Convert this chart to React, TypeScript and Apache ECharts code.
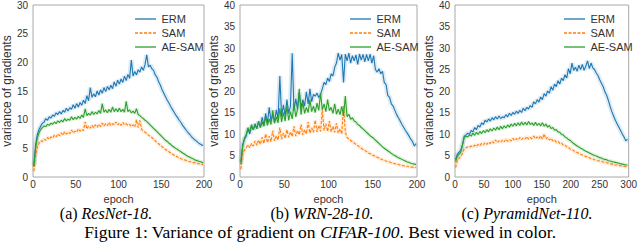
import React, { useEffect, useRef } from "react";
import * as echarts from "echarts";

// ---- data ----
const EPOCH_START_AB = 1;
const EPOCH_STEP_AB = 2;
const EPOCH_START_C = 1;
const EPOCH_STEP_C = 3;

const SERIES_NAMES = ["ERM", "SAM", "AE-SAM"];

// (a) ResNet-18
const ERM_A = [2.0,5.6,7.4,8.3,8.9,9.4,9.6,10.2,9.9,10.5,10.3,10.8,10.6,11.2,10.9,11.4,11.0,11.6,11.3,12.0,11.5,12.1,11.8,12.6,12.0,12.8,12.2,13.0,12.5,13.4,12.8,14.2,13.3,15.6,13.9,14.5,14.0,15.0,14.3,15.2,14.6,15.6,14.9,15.8,15.2,16.0,15.4,16.6,15.8,16.9,16.2,17.1,16.5,17.6,16.8,17.9,17.2,20.4,17.6,18.4,17.8,18.7,18.3,19.2,18.6,19.6,21.3,19.2,19.5,18.9,18.6,17.8,17.4,16.6,16.0,15.2,14.6,14.0,13.4,12.9,12.3,11.8,11.3,10.8,10.4,9.9,9.5,9.0,8.6,8.2,7.8,7.5,7.1,6.8,6.5,6.3,6.0,5.8,5.6,5.5];
const SAM_A = [1.0,3.8,5.2,5.9,6.3,6.2,6.6,6.4,6.9,6.6,7.0,6.8,7.3,7.0,7.5,7.2,7.7,7.3,7.9,7.5,7.8,7.6,8.2,7.7,8.0,7.8,8.4,8.0,8.3,8.1,9.6,8.4,8.9,8.5,9.0,8.6,9.1,8.7,9.2,8.8,9.4,8.9,9.3,9.0,9.5,9.0,9.3,9.1,9.6,9.1,9.4,9.0,9.5,9.1,9.3,9.0,9.2,8.8,9.1,8.7,10.0,8.6,9.9,8.3,8.0,7.8,7.6,7.3,7.1,6.9,6.6,6.3,6.0,5.8,5.5,5.3,5.0,4.8,4.6,4.4,4.2,4.0,3.8,3.7,3.5,3.4,3.2,3.1,3.0,2.9,2.8,2.7,2.6,2.5,2.5,2.4,2.3,2.3,2.2,2.2];
const AESAM_A = [1.8,5.0,6.8,7.7,8.3,8.6,8.9,8.8,9.2,9.0,9.4,9.2,9.6,9.3,9.8,9.5,9.9,9.6,10.2,9.8,10.1,9.9,10.5,10.0,10.4,10.1,10.6,10.2,10.8,10.4,11.9,10.7,11.1,10.8,11.4,10.9,11.3,11.0,11.6,11.1,12.8,11.3,11.7,11.2,11.8,11.3,12.2,11.4,11.9,11.4,12.0,11.4,11.8,11.3,13.2,11.4,11.7,11.2,11.5,11.1,11.9,10.9,10.7,10.4,10.2,9.9,9.7,9.4,9.1,8.8,8.5,8.2,7.9,7.6,7.3,7.0,6.7,6.4,6.2,5.9,5.7,5.4,5.2,5.0,4.8,4.6,4.4,4.2,4.0,3.8,3.6,3.5,3.3,3.2,3.0,2.9,2.8,2.7,2.6,2.5];

// (b) WRN-28-10
const ERM_B = [3.5,7.5,8.8,9.5,11.2,10.0,11.8,11.0,12.4,11.3,12.8,11.6,13.9,12.0,14.8,12.5,16.2,13.0,14.5,12.8,15.6,13.5,23.5,14.0,16.8,14.2,18.0,14.8,16.5,28.8,15.5,18.2,15.8,19.5,16.2,18.0,16.5,19.8,17.0,20.5,17.5,19.2,18.8,19.5,18.5,19.2,20.5,22.0,21.5,23.0,22.2,24.0,23.5,25.5,26.5,28.8,27.2,28.5,22.0,28.6,27.0,28.8,26.5,28.2,27.0,28.4,26.2,28.6,27.2,28.5,26.8,28.5,27.0,28.6,26.5,28.2,25.0,24.4,25.2,24.0,24.6,22.0,21.5,19.0,18.5,17.0,16.5,15.5,14.5,13.8,13.0,12.2,11.5,10.8,10.2,9.5,8.8,8.2,7.2,7.8];
const SAM_B = [1.8,5.5,6.2,6.8,7.5,6.8,7.8,7.2,8.4,7.4,8.6,7.6,9.2,7.8,10.0,8.0,9.5,8.2,10.8,8.4,9.6,8.6,11.5,8.8,10.2,9.0,11.0,9.2,10.5,9.4,11.8,9.5,10.8,9.8,12.2,9.8,11.0,10.0,12.8,10.2,11.4,10.4,13.2,10.5,12.0,10.6,15.5,10.8,12.4,10.6,13.0,10.5,11.8,10.4,12.5,10.2,11.2,10.0,16.5,10.4,9.2,8.8,8.5,8.2,7.9,7.6,7.3,7.0,6.7,6.4,6.2,5.9,5.6,5.4,5.2,5.0,4.8,4.6,4.4,4.2,4.0,3.9,3.7,3.6,3.5,3.3,3.2,3.1,3.0,2.9,2.8,2.7,2.6,2.5,2.5,2.4,2.3,2.3,2.2,2.2];
const AESAM_B = [3.0,7.0,9.0,9.8,11.5,10.5,12.2,11.0,12.0,11.2,13.0,11.5,12.8,11.8,14.0,12.0,13.5,12.2,15.5,12.5,14.0,12.6,16.0,12.8,15.0,13.0,16.5,13.2,15.2,13.5,17.0,14.0,15.8,20.5,14.5,17.5,14.8,16.2,15.0,18.0,15.2,16.5,15.0,17.2,15.5,19.5,15.6,17.0,15.2,18.0,15.4,16.2,14.8,17.0,14.6,15.8,14.5,16.4,14.2,18.8,14.0,14.6,13.4,13.8,13.0,12.8,12.2,12.0,11.5,11.2,10.8,10.4,10.0,9.6,9.3,9.0,8.6,8.2,7.8,7.4,7.0,6.7,6.4,6.1,5.8,5.5,5.2,5.0,4.7,4.5,4.3,4.1,3.9,3.7,3.5,3.4,3.2,3.1,3.0,2.9];

// (c) PyramidNet-110
const ERM_C = [4.0,5.3,5.8,6.2,7.5,9.5,9.8,10.2,9.9,10.8,10.5,11.5,11.0,12.0,11.6,12.6,12.2,13.2,12.8,13.5,13.0,13.8,13.3,14.0,13.5,14.2,13.6,14.0,13.8,14.5,14.0,14.8,14.3,15.0,14.6,15.3,14.8,15.5,15.0,16.0,15.4,16.2,15.8,16.6,16.2,17.5,17.0,18.0,17.4,18.6,18.0,19.4,18.8,20.0,19.5,21.0,20.2,21.6,21.0,22.4,21.6,23.0,22.4,23.8,23.0,25.2,24.0,26.5,24.8,25.5,24.6,26.0,25.0,26.2,24.8,25.8,27.0,25.2,26.5,25.4,25.0,24.2,23.6,22.6,21.8,21.0,19.8,19.0,17.8,16.4,15.2,14.2,13.2,12.4,11.6,10.8,10.0,9.3,8.4,8.8];
const SAM_C = [2.2,3.8,4.3,4.8,5.5,6.6,6.8,7.0,6.9,7.2,7.0,7.4,7.1,7.6,7.3,7.8,7.5,8.0,7.6,8.1,7.8,8.3,7.9,8.6,8.0,8.4,8.1,8.6,8.2,8.8,8.3,8.7,8.4,9.0,8.5,8.9,8.6,9.2,8.7,9.1,8.8,9.4,8.8,9.2,8.9,9.5,8.9,9.3,8.9,9.6,8.8,10.0,8.8,9.2,8.6,9.0,8.4,8.6,8.1,8.3,7.8,7.9,7.4,7.4,7.0,6.9,6.5,6.4,6.1,5.9,5.7,5.5,5.3,5.1,4.9,4.8,4.6,4.5,4.3,4.2,4.0,3.9,3.8,3.7,3.6,3.5,3.4,3.3,3.2,3.1,3.0,2.9,2.8,2.8,2.7,2.6,2.5,2.5,2.4,2.4];
const AESAM_C = [3.5,4.8,5.3,5.8,7.5,9.2,9.5,9.3,9.8,9.5,10.2,9.7,10.4,9.9,10.6,10.1,10.8,10.3,11.0,10.5,11.2,10.7,11.4,10.9,11.6,11.0,11.8,11.2,11.9,11.4,12.1,11.6,12.3,11.8,12.5,11.9,12.6,12.0,12.8,12.1,12.7,12.1,12.9,12.2,12.6,12.0,12.7,12.0,12.5,11.9,12.6,11.8,12.3,11.6,12.0,11.3,11.5,10.9,11.0,10.5,10.4,9.9,9.8,9.3,9.1,8.7,8.5,8.1,7.8,7.5,7.2,7.0,6.7,6.5,6.2,6.0,5.8,5.6,5.4,5.2,5.0,4.9,4.7,4.5,4.4,4.2,4.1,4.0,3.8,3.7,3.6,3.5,3.4,3.3,3.2,3.1,3.0,2.9,2.8,2.8];

const CAPTIONS = [
  { tag: "(a) ", model: "ResNet-18." },
  { tag: "(b) ", model: "WRN-28-10." },
  { tag: "(c) ", model: "PyramidNet-110." },
];
const FIG_PREFIX = "Figure 1: Variance of gradient on ";
const FIG_ITALIC = "CIFAR-100";
const FIG_SUFFIX = ". Best viewed in color.";

const COLORS = ["#1f77b4", "#ff7f0e", "#2ca02c"];
const SANS = "'Liberation Sans', Arial, sans-serif";
const SERIF = "'Liberation Serif', 'Times New Roman', serif";

const SOLID_ICON = "path://M0,0H21V1.3H0Z";
const DASH_ICON = "path://M0,0h3v1.3h-3z M4.5,0h3v1.3h-3z M9,0h3v1.3h-3z M13.5,0h3v1.3h-3z M18,0h3v1.3h-3z";

const toPairs = (arr: number[], start: number, step: number) =>
  arr.map((v, i) => [start + i * step, v]);

export default function App() {
  const ref = useRef<HTMLDivElement>(null);
  useEffect(() => {
    document.body.style.margin = "0";
    const chart = echarts.init(ref.current!, undefined, { renderer: "svg" });

    const panels = [
      { data: [ERM_A, SAM_A, AESAM_A], start: EPOCH_START_AB, step: EPOCH_STEP_AB, xmax: 200, ymax: 30, left: 26, width: 178, legendLeft: 130 },
      { data: [ERM_B, SAM_B, AESAM_B], start: EPOCH_START_AB, step: EPOCH_STEP_AB, xmax: 200, ymax: 40, left: 240, width: 177, legendLeft: 345 },
      { data: [ERM_C, SAM_C, AESAM_C], start: EPOCH_START_C, step: EPOCH_STEP_C, xmax: 300, ymax: 40, left: 455, width: 178, legendLeft: 559 },
    ];

    const grid: any[] = [];
    const xAxis: any[] = [];
    const yAxis: any[] = [];
    const series: any[] = [];
    const legend: any[] = [];

    panels.forEach((p, gi) => {
      grid.push({ left: p.left, top: 4, width: p.width, height: 173, show: true, borderColor: "#a8a8a8", borderWidth: 1, backgroundColor: "transparent" });
      xAxis.push({
        type: "value", gridIndex: gi, min: 0, max: p.xmax, interval: 50,
        axisLine: { show: false }, axisTick: { show: false }, splitLine: { show: false },
        axisLabel: { color: "#333", fontSize: 10, fontFamily: SANS, margin: 2 },
        name: "epoch", nameLocation: "middle", nameGap: 15,
        nameTextStyle: { color: "#333", fontSize: 11, fontFamily: SANS, lineHeight: 11 },
      });
      yAxis.push({
        type: "value", gridIndex: gi, min: 0, max: p.ymax, interval: 5,
        axisLine: { show: false }, axisTick: { show: false }, splitLine: { show: false },
        axisLabel: { color: "#333", fontSize: 10, fontFamily: SANS, margin: 5 },
        name: "variance of gradients", nameLocation: "middle", nameGap: 12,
        nameTextStyle: { color: "#333", fontSize: 12, fontFamily: SANS },
      });
      p.data.forEach((arr, si) => {
        const pairs = toPairs(arr, p.start, p.step);
        series.push({
          name: SERIES_NAMES[si] + " band", type: "line", xAxisIndex: gi, yAxisIndex: gi,
          data: pairs, showSymbol: false, symbol: "none", silent: true, z: 1,
          lineStyle: { color: COLORS[si], width: si === 0 ? 5 : 4, opacity: 0.14 },
        });
      });
      p.data.forEach((arr, si) => {
        const pairs = toPairs(arr, p.start, p.step);
        series.push({
          name: SERIES_NAMES[si], type: "line", xAxisIndex: gi, yAxisIndex: gi,
          data: pairs, showSymbol: false, symbol: "none", z: 2 + si,
          lineStyle: { color: COLORS[si], width: 1.1, type: si === 1 ? [3, 1.5] : "solid" },
          itemStyle: { color: COLORS[si] },
        });
      });
      legend.push({
        data: SERIES_NAMES.map((n, si) => ({ name: n, icon: si === 1 ? DASH_ICON : SOLID_ICON })),
        orient: "vertical", left: p.legendLeft, top: 8,
        itemWidth: 22, itemHeight: 1.3, itemGap: 2, selectedMode: false,
        itemStyle: { borderWidth: 0 },
        lineStyle: { width: 0 },
        textStyle: { color: "#333", fontSize: 11, fontFamily: SANS, lineHeight: 12 },
      });
    });

    const capCenters = [106, 322, 527];
    const CAP_FS = 16;
    const graphic: any[] = CAPTIONS.map((c, i) => ({
      type: "text", x: capCenters[i], y: 213,
      style: {
        text: `{n|${c.tag}}{i|${c.model}}`,
        align: "center", verticalAlign: "middle",
        rich: {
          n: { fontFamily: SERIF, fontSize: CAP_FS, lineHeight: 16, fill: "#000" },
          i: { fontFamily: SERIF, fontSize: CAP_FS, lineHeight: 16, fontStyle: "italic", fill: "#000" },
        },
      },
    }));
    graphic.push({
      type: "text", x: 320, y: 232,
      style: {
        text: `{n|${FIG_PREFIX}}{i|${FIG_ITALIC}}{n|${FIG_SUFFIX}}`,
        align: "center", verticalAlign: "middle",
        rich: {
          n: { fontFamily: SERIF, fontSize: 17.5, lineHeight: 18, fill: "#000" },
          i: { fontFamily: SERIF, fontSize: 17.5, lineHeight: 18, fontStyle: "italic", fill: "#000" },
        },
      },
    });

    chart.setOption({
      animation: false,
      backgroundColor: "#fff",
      grid, xAxis, yAxis, series, legend, graphic,
    });
    return () => chart.dispose();
  }, []);
  return <div ref={ref} style={{ width: 640, height: 243 }} />;
}
